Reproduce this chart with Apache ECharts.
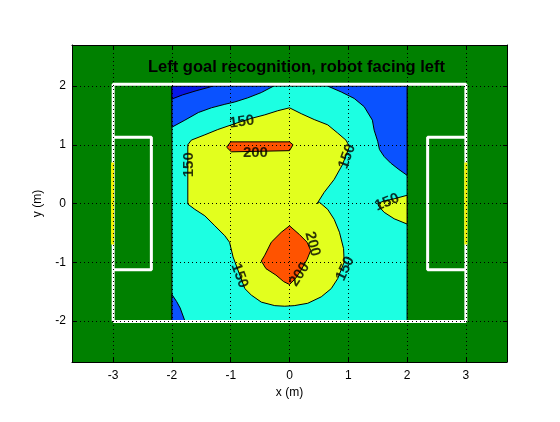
<!DOCTYPE html>
<html>
<head>
<meta charset="utf-8">
<script src="https://cdn.jsdelivr.net/npm/echarts@6/dist/echarts.min.js"></script>
<style>
  html, body { margin: 0; padding: 0; background: #fff; }
  #chart { width: 560px; height: 422px; }
</style>
</head>
<body>
<div id="chart"></div>
<script>
// tick values
const xTicks = [-3, -2, -1, 0, 1, 2, 3];
const yTicks = [-2, -1, 0, 1, 2];

// filled contour regions, [x, y] in metres
const cyanBase = [[-2, -2], [2, -2], [2, 2], [-2, 2]];
const blueTopLeft = [[-2, 2], [-2, 1.3], [-1.78, 1.42], [-1.55, 1.55], [-1.33, 1.63], [-1.1, 1.69],
    [-0.93, 1.73], [-0.71, 1.8], [-0.48, 1.89], [-0.27, 2]];
const darkTopLeft = [[-2, 2], [-2, 1.78], [-1.82, 1.85], [-1.59, 1.92], [-1.37, 1.98], [-1.31, 2]];
const blueTopRight = [[0.65, 2], [0.88, 1.9], [1.1, 1.79], [1.27, 1.65], [1.41, 1.42], [1.44, 1.25],
    [1.5, 1.06], [1.53, 0.92], [1.61, 0.8], [1.72, 0.69], [1.86, 0.58], [2, 0.48], [2, 2]];
const blueBottomLeft = [[-2, -1.55], [-1.92, -1.67], [-1.86, -1.78], [-1.78, -2], [-2, -2]];
const yellowMain = [[-1.73, -0.01], [-1.73, 1.0], [-1.67, 1.08], [-1.44, 1.17], [-1.22, 1.26],
    [-0.93, 1.36], [-0.65, 1.45], [-0.42, 1.51], [-0.2, 1.58], [0, 1.63], [0.2, 1.53], [0.42, 1.43],
    [0.65, 1.34], [0.82, 1.2], [0.96, 1.08], [1.02, 0.97], [0.9, 0.66], [0.76, 0.41], [0.59, 0.19],
    [0.47, 0.0], [0.51, 0.02], [0.65, -0.1], [0.76, -0.27], [0.85, -0.49], [0.92, -0.77], [0.93, -1.0],
    [0.82, -1.28], [0.71, -1.45], [0.54, -1.59], [0.31, -1.7], [0.08, -1.74], [-0.08, -1.75],
    [-0.25, -1.74], [-0.48, -1.68], [-0.65, -1.56], [-0.76, -1.45], [-0.96, -0.91], [-1.02, -0.66],
    [-1.1, -0.55], [-1.27, -0.38], [-1.44, -0.21], [-1.61, -0.1]];
const yellowRight = [[2, 0.14], [1.78, 0.08], [1.6, 0.04], [1.5, 0], [1.52, -0.05], [1.61, -0.15],
    [1.78, -0.26], [2, -0.35]];
const orangeTop = [[-1.0, 1.05], [0, 1.05], [0.06, 1.0], [0, 0.9], [-0.99, 0.88], [-1.07, 0.96]];
const orangeBottom = [[0, -0.38], [0.17, -0.53], [0.3, -0.66], [0.36, -0.8], [0.3, -0.95], [0.2, -1.13],
    [0.1, -1.28], [0, -1.38], [-0.1, -1.33], [-0.23, -1.22], [-0.4, -1.11], [-0.48, -0.98],
    [-0.42, -0.88], [-0.31, -0.66], [-0.14, -0.49]];

// contour labels
const labelPos = [[-0.81, 1.39], [-0.58, 0.87], [-1.71, 0.66], [0.98, 0.8], [1.66, 0.02],
    [0.39, -0.69], [0.17, -1.21], [0.95, -1.11], [-0.85, -1.23]];
const labelText = ['150', '200', '150', '150', '150', '200', '200', '150', '150'];
const labelAngle = [8, 0, 90, 70, 22, -75, 57, 65, -70];

// field markings
const fieldOutline = [[-3, -2.01], [3, -2.01], [3, 2.03], [-3, 2.03], [-3, -2.01]];
const leftBox = [[-3, 1.13], [-2.35, 1.13], [-2.35, -1.13], [-3, -1.13]];
const rightBox = [[3, 1.13], [2.35, 1.13], [2.35, -1.13], [3, -1.13]];
const leftGoal = [[-3.01, 0.7], [-3.01, -0.7]];
const rightGoal = [[3, 0.7], [3, -0.7]];

const FONT = 'Liberation Sans';
const colors = { dark: '#0618E6', blue: '#0A52FF', cyan: '#1CFFE2', yellow: '#E2FF1E', orange: '#FF5300' };

const layers = [
    { poly: cyanBase, color: colors.cyan },
    { poly: blueTopLeft, color: colors.blue },
    { poly: darkTopLeft, color: colors.dark },
    { poly: blueTopRight, color: colors.blue },
    { poly: blueBottomLeft, color: colors.blue },
    { poly: yellowMain, color: colors.yellow },
    { poly: yellowRight, color: colors.yellow },
    { poly: orangeTop, color: colors.orange },
    { poly: orangeBottom, color: colors.orange },
];

function fieldLine(data, color) {
    return {
        type: 'line', data, symbol: 'none', silent: true, z: 5,
        lineStyle: { color, width: 3 },
    };
}

function makeXAxis(position, main) {
    return {
        type: 'value', min: -3.7, max: 3.7, position, z: 10,
        axisLine: { show: true, onZero: false, lineStyle: { color: '#000', width: 1 } },
        axisTick: { show: true, inside: true, length: 4, customValues: xTicks, lineStyle: { color: '#000' } },
        axisLabel: { show: main, customValues: xTicks, color: '#000', fontSize: 12, fontFamily: FONT, margin: 8 },
        splitLine: { show: main, lineStyle: { color: '#000', type: [1, 3], width: 1 } },
        name: main ? 'x (m)' : '', nameLocation: 'middle', nameGap: 22,
        nameTextStyle: { color: '#000', fontSize: 12, fontFamily: FONT },
    };
}

function makeYAxis(position, main) {
    return {
        type: 'value', min: -2.7, max: 2.7, position, z: 10,
        axisLine: { show: true, onZero: false, lineStyle: { color: '#000', width: 1 } },
        axisTick: { show: true, inside: true, length: 4, customValues: yTicks, lineStyle: { color: '#000' } },
        axisLabel: { show: main, customValues: yTicks, color: '#000', fontSize: 12, fontFamily: FONT, margin: 6 },
        splitLine: { show: main, lineStyle: { color: '#000', type: [1, 3], width: 1 } },
        name: main ? 'y (m)' : '', nameLocation: 'middle', nameGap: 28, nameRotate: 90,
        nameTextStyle: { color: '#000', fontSize: 12, fontFamily: FONT },
    };
}

const chart = echarts.init(document.getElementById('chart'), null, { renderer: 'canvas' });

chart.setOption({
    animation: false,
    backgroundColor: '#fff',
    title: {
        text: 'Left goal recognition, robot facing left',
        left: 148, top: 59, padding: 0,
        textStyle: { color: '#000', fontSize: 16.5, fontWeight: 'bold', fontFamily: FONT },
    },
    grid: {
        left: 72, top: 45, width: 435, height: 317,
        show: true, backgroundColor: '#008000', borderWidth: 0,
    },
    xAxis: [makeXAxis('bottom', true), makeXAxis('top', false)],
    yAxis: [makeYAxis('left', true), makeYAxis('right', false)],
    series: [
        {
            type: 'custom',
            silent: true,
            z: 2,
            data: layers.map(l => l.poly[0]),
            renderItem: function (params, api) {
                const layer = layers[params.dataIndex];
                return {
                    type: 'polygon',
                    shape: { points: layer.poly.map(p => api.coord(p)) },
                    style: { fill: layer.color, stroke: '#000', lineWidth: 1 },
                };
            },
        },
        fieldLine(fieldOutline, '#fff'),
        fieldLine(leftBox, '#fff'),
        fieldLine(rightBox, '#fff'),
        fieldLine(leftGoal, '#f2f200'),
        fieldLine(rightGoal, '#f2f200'),
        {
            type: 'scatter',
            symbolSize: 0,
            silent: true,
            z: 6,
            data: labelPos.map((p, i) => ({
                value: p,
                label: {
                    show: true, position: 'inside', formatter: labelText[i], rotate: labelAngle[i],
                    color: '#000', fontSize: 15, fontWeight: 'bold', fontFamily: FONT,
                },
            })),
        },
    ],
});
</script>
</body>
</html>
